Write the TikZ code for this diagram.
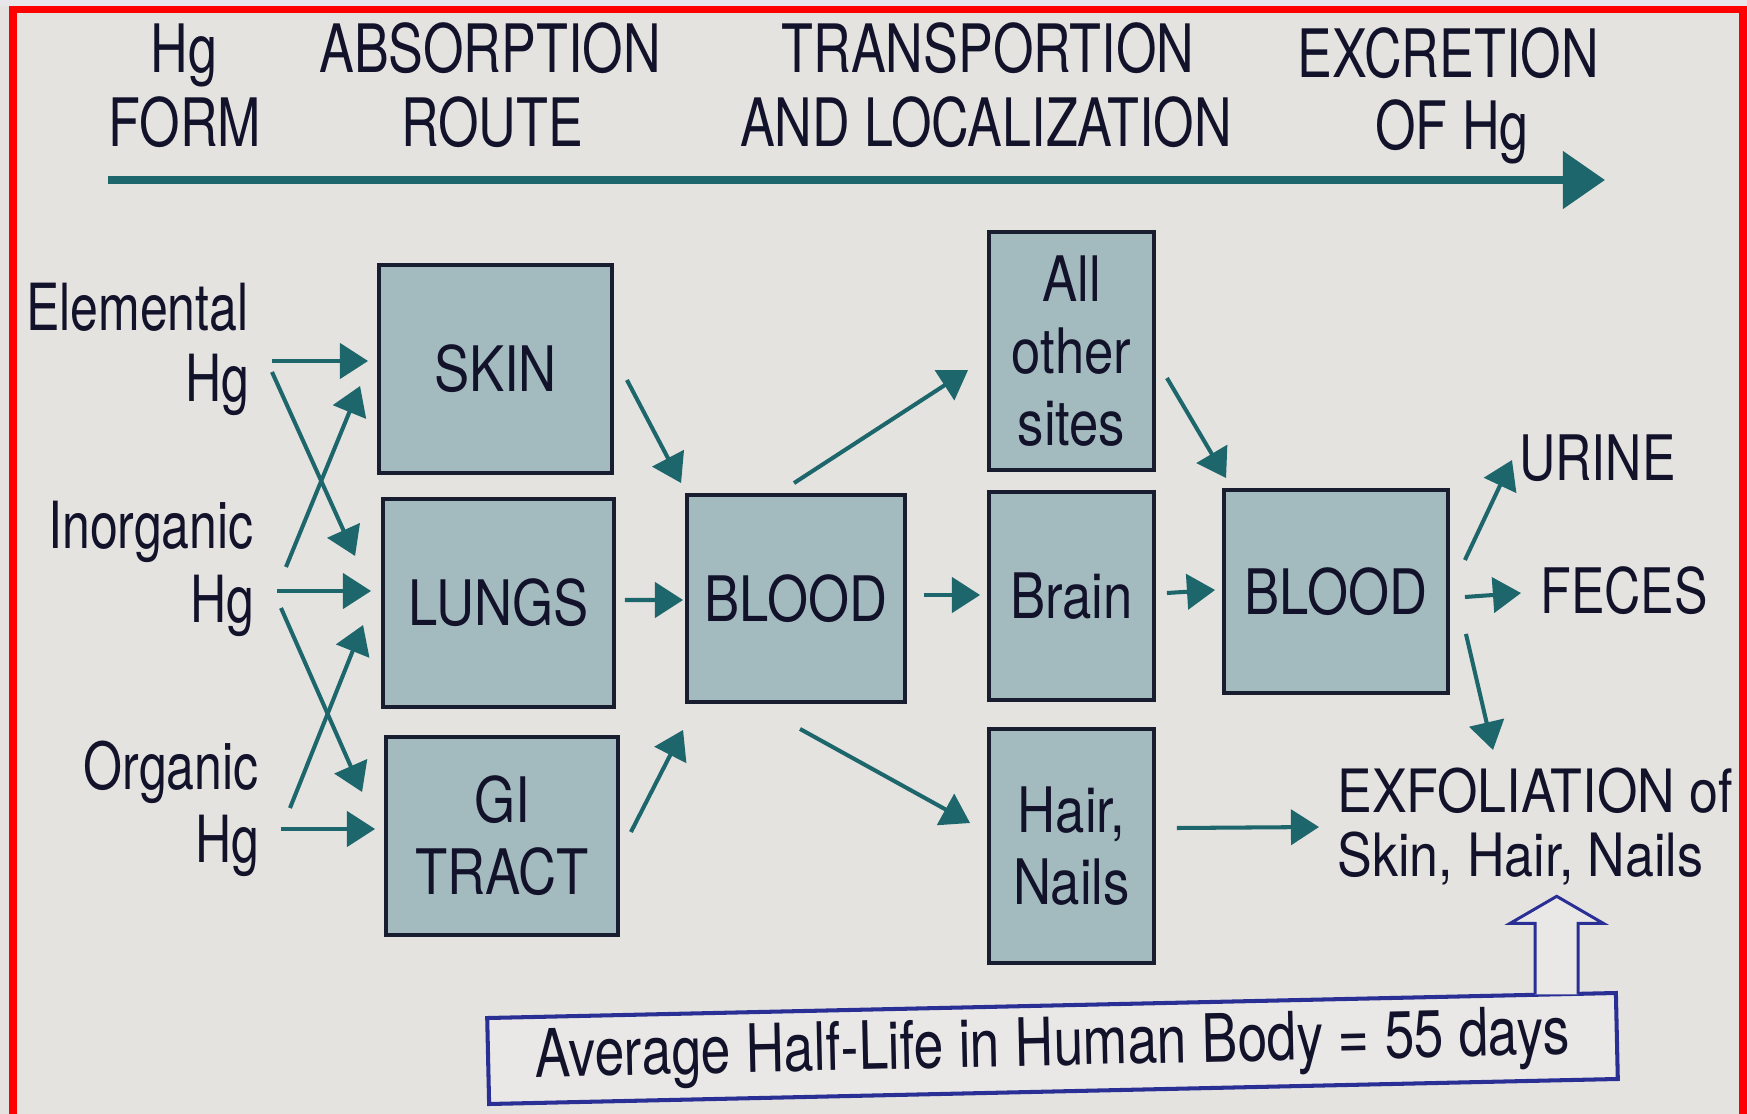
\documentclass[tikz,border=0pt]{standalone}
\usepackage{fontspec}
\setmainfont{TeX Gyre Heros}
\newfontfamily\fhead[FakeStretch=0.78]{TeX Gyre Heros}
\newfontfamily\flab[FakeStretch=0.77]{TeX Gyre Heros}
\newfontfamily\fbx[FakeStretch=0.84]{TeX Gyre Heros}
\newfontfamily\fexc[FakeStretch=0.80]{TeX Gyre Heros}
\newfontfamily\fexf[FakeStretch=0.87]{TeX Gyre Heros}
\newfontfamily\fhl[FakeStretch=0.80]{TeX Gyre Heros}
\usetikzlibrary{arrows.meta,calc}
\definecolor{bg}{HTML}{E5E3E0}
\definecolor{topstrip}{HTML}{E8E5EB}
\definecolor{frame}{HTML}{FF0000}
\definecolor{boxfill}{HTML}{A3BBBF}
\definecolor{boxline}{HTML}{181E30}
\definecolor{arrcol}{HTML}{1D666C}
\definecolor{ink}{HTML}{12122A}
\definecolor{hlline}{HTML}{2A2F96}
\definecolor{hlfill}{HTML}{EAE8E6}
\begin{document}
\begin{tikzpicture}[x=0.02cm,y=-0.02cm,
  hd/.style={font=\fhead\fontsize{38pt}{44pt}\selectfont, text=ink, inner sep=0pt, anchor=base},
  lab/.style={font=\flab\fontsize{37pt}{42pt}\selectfont, text=ink, inner sep=0pt, anchor=base east},
  organ/.style 2 args={draw=boxline, line width=2.2pt, fill=boxfill, inner sep=0pt,
    minimum width={#1*0.02cm}, minimum height={#2*0.02cm}, align=center,
    font=\fbx\fontsize{35.7pt}{41pt}\selectfont, text=ink},
  outlab/.style={font=\fexc\fontsize{35.7pt}{41pt}\selectfont, text=ink, inner sep=0pt, anchor=base west},
  exflab/.style={font=\fexf\fontsize{34pt}{40pt}\selectfont, text=ink, inner sep=0pt, anchor=base west},
  arr/.style={draw=arrcol, line width=2.3pt, -{Triangle[length=16pt,width=20pt]}},
  bigarr/.style={draw=arrcol, line width=4.5pt, -{Triangle[length=24pt,width=32pt]}},
  hlbox/.style={draw=hlline, line width=2.3pt, fill=hlfill, inner sep=0pt,
    font=\fhl\fontsize{38pt}{44pt}\selectfont, text=ink},
  hollow/.style={draw=hlline, line width=1.7pt, fill=hlfill, line join=miter}
]
\useasboundingbox (0,0) rectangle (1747,1114);
% background and frame
\fill[bg] (0,0) rectangle (1747,1114);
\fill[topstrip] (0,0) rectangle (1747,6);
\fill[frame] (9,6) rectangle (1747,13);
\fill[frame] (9,6) rectangle (17,1114);
\fill[frame] (1739,6) rectangle (1747,1114);

% header
\node[hd] (h1a) at (184,73) {Hg};
\node[hd] (h1b) at (185,147) {FORM};
\node[hd] (h2a) at (490,73) {ABSORPTION};
\node[hd] (h2b) at (492,147) {ROUTE};
\node[hd] (h3a) at (988,73) {TRANSPORTION};
\node[hd] (h3b) at (986,147) {AND LOCALIZATION};
\node[hd] (h4a) at (1448,78) {EXCRETION};
\node[hd] (h4b) at (1452,150) {OF Hg};
\coordinate (axS) at (108,180);
\coordinate (axE) at (1605,180);
\draw[bigarr] (axS) -- (axE);

% Hg forms
\node[lab] (elem) at (249,331) {Elemental};
\node[lab] (elemhg) at (250,402) {Hg};
\node[lab] (inorg) at (254,548) {Inorganic};
\node[lab] (inorghg) at (255,622) {Hg};
\node[lab] (org) at (259,789) {Organic};
\node[lab] (orghg) at (260,862) {Hg};

% boxes
\node[organ={233}{208}] (skin) at (495.5,369) {SKIN};
\node[organ={231}{208}] (lungs) at (498.5,603) {LUNGS};
\node[organ={232}{198}] (gi) at (502,836) {GI\\TRACT};
\node[organ={218}{207}] (blood1) at (796,598.5) {BLOOD};
\node[organ={165}{238}] (others) at (1071.5,351) {All\\other\\sites};
\node[organ={165}{208}] (brain) at (1071.5,596) {Brain};
\node[organ={165}{234}] (hair) at (1071.5,846) {Hair,\\Nails};
\node[organ={224}{203}] (blood2) at (1336,591.5) {BLOOD};

% outputs
\node[outlab] (urine) at (1519,480) {URINE};
\node[outlab] (feces) at (1540,613) {FECES};
\node[exflab] (exfol1) at (1337,812) {EXFOLIATION of};
\node[exflab] (exfol2) at (1337,876) {Skin, Hair, Nails};

% half-life box
\node[hlbox, rotate=1.27, minimum width={1129*0.02cm}, minimum height={86*0.02cm}] (hl) at (1052.5,1048.5) {Average Half-Life in Human Body = 55 days};

% absorption arrows
\draw[arr] ($(elemhg.base east)+(22,-41)$) -- ($(skin.west)+(-9,-8)$);
\draw[arr] ($(elemhg.base east)+(22,-30)$) -- ($(lungs.west)+(-26,-47)$);
\draw[arr] ($(inorghg.base east)+(31,-55)$) -- ($(skin.west)+(-17,17)$);
\draw[arr] ($(inorghg.base east)+(22,-31)$) -- ($(lungs.west)+(-10,-12)$);
\draw[arr] ($(inorghg.base east)+(26,-14)$) -- ($(gi.west)+(-22,-44)$);
\draw[arr] ($(orghg.base east)+(30,-54)$) -- ($(lungs.west)+(-18,22)$);
\draw[arr] ($(orghg.base east)+(21,-33)$) -- ($(gi.west)+(-9,-7)$);

% to blood
\draw[arr] ($(skin.east)+(13,11)$) -- ($(blood1.north west)+(-4,-10)$);
\draw[arr] ($(lungs.east)+(9,-3)$) -- ($(blood1.west)+(-2,1.5)$);
\draw[arr] ($(gi.east)+(11,-4)$) -- ($(blood1.south west)+(-2,26)$);

% distribution
\draw[arr] ($(blood1.north)+(-2,-10)$) -- ($(others.west)+(-19,19)$);
\draw[arr] ($(blood1.east)+(17,-3.5)$) -- ($(brain.west)+(-7,-1)$);
\draw[arr] ($(blood1.south)+(4,25)$) -- ($(hair.west)+(-17,-23)$);
\draw[arr] ($(others.east)+(11,27)$) -- ($(blood2.north west)+(4,-10)$);
\draw[arr] ($(brain.east)+(11,-3)$) -- ($(blood2.west)+(-7,-1.5)$);
\draw[arr] ($(hair.east)+(21,-18)$) -- ($(exfol1.base west)+(-18,15)$);

% excretion
\draw[arr] ($(blood2.east)+(15,-31.5)$) -- ($(urine.base west)+(-7,-20)$);
\draw[arr] ($(blood2.east)+(15,5.5)$) -- ($(feces.base west)+(-19,-20)$);
\draw[arr] ($(blood2.south east)+(16,-61)$) -- ($(exfol1.base west)+(156,-62)$);

% hollow arrow from half-life box
\coordinate (hlA) at ($(hl.north west)!0.946!(hl.north east)$);
\draw[hollow] ($(hlA)+(-21.5,2)$) -- ++(0,-71) -- ++(-25,0) -- ++(46.5,-27) -- ++(46.5,27) -- ++(-25,0) -- ++(0,71);
\end{tikzpicture}
\end{document}
